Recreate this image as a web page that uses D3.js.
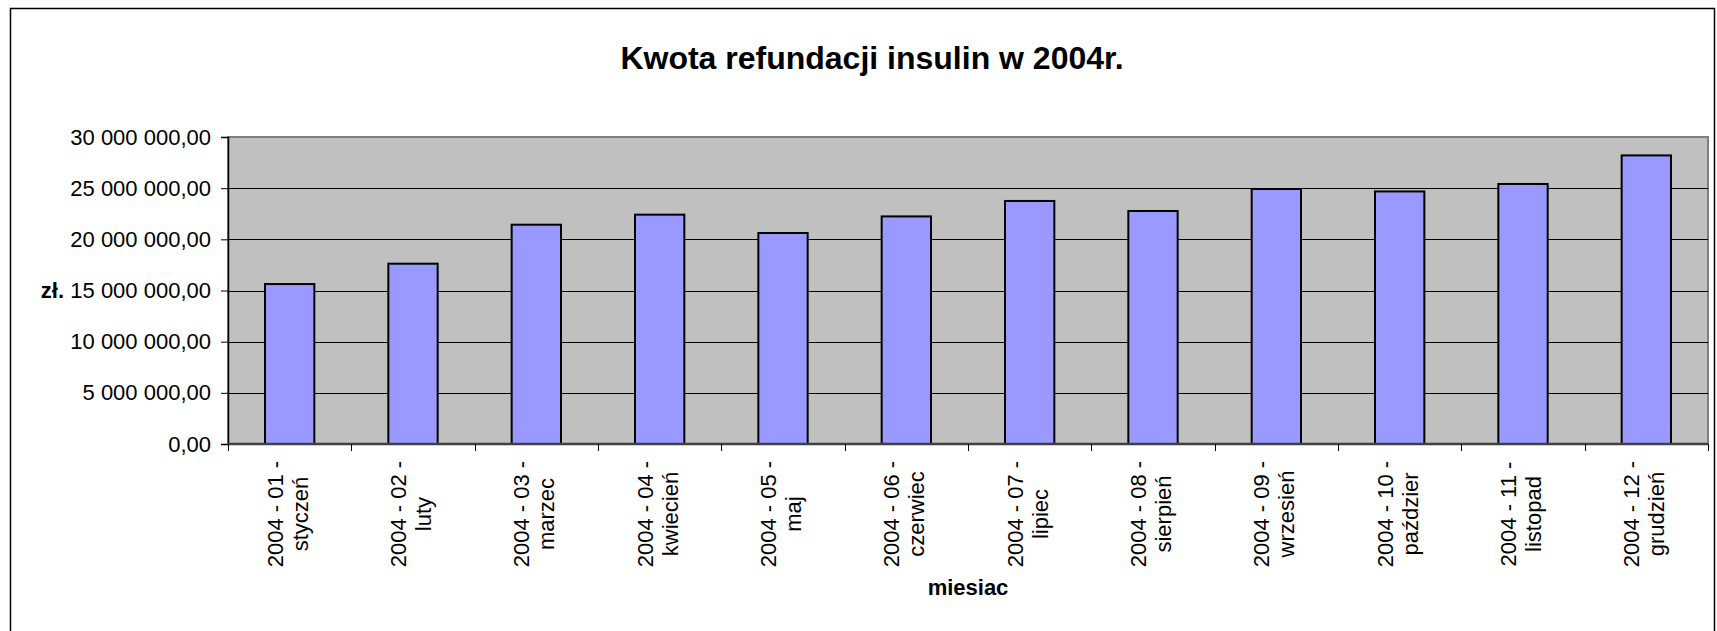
<!DOCTYPE html>
<html>
<head>
<meta charset="utf-8">
<script src="https://cdn.jsdelivr.net/npm/d3@7"></script>
<style>
  html, body { margin: 0; padding: 0; background: #fff; }
  svg text { font-family: "Liberation Sans", Arial, sans-serif; fill: #000; }
</style>
</head>
<body>
<svg id="chart" width="1717" height="631"></svg>
<script>
// data (zł)
const monthCodes = ["2004 - 01 -", "2004 - 02 -", "2004 - 03 -", "2004 - 04 -", "2004 - 05 -", "2004 - 06 -",
                    "2004 - 07 -", "2004 - 08 -", "2004 - 09 -", "2004 - 10 -", "2004 - 11 -", "2004 - 12 -"];
const monthNames = ["styczeń", "luty", "marzec", "kwiecień", "maj", "czerwiec",
                    "lipiec", "sierpień", "wrzesień", "paździer", "listopad", "grudzień"];
const refundValues = [15630000, 17620000, 21430000, 22410000, 20620000, 22240000,
                      23750000, 22770000, 24920000, 24680000, 25410000, 28200000];
const yTicks = [0, 5000000, 10000000, 15000000, 20000000, 25000000, 30000000];

const chartTitle = "Kwota refundacji insulin w 2004r.";
const xTitle = "miesiac";
const yTitle = "zł.";

class RefundBarChart {
    constructor(selector) {
        this.svg = d3.select(selector);
        this.plot = { left: 228, right: 1708, top: 137, bottom: 444 };
        this.fontSize = 22;

        // polish number format: 30 000 000,00
        this.fmt = d3.formatLocale({ decimal: ",", thousands: " ", grouping: [3], currency: ["", ""] }).format(",.2f");

        this.xScale = d3.scaleBand()
            .domain(d3.range(refundValues.length))
            .range([this.plot.left, this.plot.right])
            .paddingInner(0.6)
            .paddingOuter(0.3);

        this.yScale = d3.scaleLinear()
            .domain([0, 30000000])
            .range([this.plot.bottom, this.plot.top]);
    }

    draw() {
        this.drawFrame();
        this.drawPlotArea();
        this.drawBars();
        this.drawAxes();
        this.drawTitles();
    }

    drawFrame() {
        this.svg.append("rect")
            .attr("x", 10.5).attr("y", 8.5)
            .attr("width", 1704).attr("height", 640)
            .attr("fill", "#fff")
            .attr("stroke", "#000")
            .attr("stroke-width", 1.5);
    }

    drawPlotArea() {
        const p = this.plot;
        this.svg.append("rect")
            .attr("x", p.left).attr("y", p.top)
            .attr("width", p.right - p.left).attr("height", p.bottom - p.top)
            .attr("fill", "#C0C0C0")
            .attr("stroke", "#808080")
            .attr("stroke-width", 2);

        // horizontal gridlines
        this.svg.append("g").selectAll("line")
            .data(yTicks.filter(d => d > 0 && d < 30000000))
            .join("line")
            .attr("x1", p.left).attr("x2", p.right)
            .attr("y1", d => Math.round(this.yScale(d)) + 0.5)
            .attr("y2", d => Math.round(this.yScale(d)) + 0.5)
            .attr("stroke", "#000")
            .attr("stroke-width", 1);
    }

    drawBars() {
        this.svg.append("g").selectAll("rect")
            .data(refundValues)
            .join("rect")
            .attr("x", (d, i) => this.xScale(i))
            .attr("y", d => this.yScale(d))
            .attr("width", this.xScale.bandwidth())
            .attr("height", d => this.plot.bottom - this.yScale(d))
            .attr("fill", "#9999FF")
            .attr("stroke", "#000")
            .attr("stroke-width", 2);
    }

    drawAxes() {
        const p = this.plot;

        const yAxis = d3.axisLeft(this.yScale)
            .tickValues(yTicks)
            .tickSize(7)
            .tickPadding(10)
            .tickFormat(this.fmt);

        const gy = this.svg.append("g")
            .attr("transform", `translate(${p.left},0)`)
            .call(yAxis);
        gy.select(".domain").attr("stroke", "#000").attr("stroke-width", 1.5);
        gy.selectAll(".tick line").attr("stroke", "#000");
        gy.selectAll(".tick text").attr("font-size", this.fontSize).attr("fill", "#000")
            .attr("font-family", "'Liberation Sans', Arial, sans-serif");

        // x axis line + ticks at category borders
        const step = this.xScale.step();
        const borders = d3.range(refundValues.length + 1).map(i => p.left + i * step);

        this.svg.append("line")
            .attr("x1", p.left).attr("x2", p.right)
            .attr("y1", p.bottom).attr("y2", p.bottom)
            .attr("stroke", "#404040")
            .attr("stroke-width", 2.5);

        this.svg.append("g").selectAll("line")
            .data(borders)
            .join("line")
            .attr("x1", d => Math.round(d) + 0.5).attr("x2", d => Math.round(d) + 0.5)
            .attr("y1", p.bottom).attr("y2", p.bottom + 7)
            .attr("stroke", "#000")
            .attr("stroke-width", 1);

        // rotated two-line category labels
        const labels = this.svg.append("g").selectAll("g")
            .data(monthCodes)
            .join("g")
            .attr("transform", (d, i) => {
                const cx = this.xScale(i) + this.xScale.bandwidth() / 2;
                return `translate(${cx},${p.bottom + 70}) rotate(-90)`;
            });

        labels.append("text")
            .attr("text-anchor", "middle")
            .attr("font-size", this.fontSize)
            .attr("y", -7)
            .text(d => d);

        labels.append("text")
            .attr("text-anchor", "middle")
            .attr("font-size", this.fontSize)
            .attr("y", 18)
            .text((d, i) => monthNames[i]);
    }

    drawTitles() {
        const p = this.plot;

        this.svg.append("text")
            .attr("x", 872).attr("y", 69)
            .attr("text-anchor", "middle")
            .attr("font-size", 32)
            .attr("font-weight", "bold")
            .text(chartTitle);

        this.svg.append("text")
            .attr("x", (p.left + p.right) / 2).attr("y", 595)
            .attr("text-anchor", "middle")
            .attr("font-size", this.fontSize)
            .attr("font-weight", "bold")
            .text(xTitle);

        this.svg.append("text")
            .attr("x", 64).attr("y", (p.top + p.bottom) / 2 + 7)
            .attr("text-anchor", "end")
            .attr("font-size", this.fontSize)
            .attr("font-weight", "bold")
            .text(yTitle);
    }
}

const chart = new RefundBarChart("#chart");
chart.draw();
</script>
</body>
</html>
